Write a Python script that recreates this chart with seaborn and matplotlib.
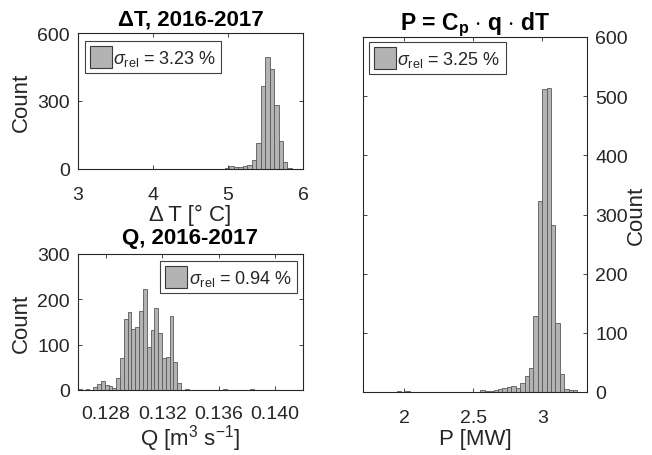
import numpy as np
import pandas as pd
import matplotlib
matplotlib.use("Agg")
import matplotlib.pyplot as plt
import seaborn as sns
from matplotlib.patches import Patch

# ---------------- data ----------------
dT_bin_start = 4.841
dT_bin_width = 0.0595
dT_counts = [2, 0, 3, 13, 7, 7, 12, 19, 41, 115, 368, 494, 441, 284, 125, 32, 3]
dT_sigma = "3.23"

Q_bin_start = 0.12600
Q_bin_width = 0.0002714
Q_counts = [2, 0, 2, 0, 6, 14, 19, 11, 9, 4, 26, 71, 157, 173, 135, 139, 174,
            223, 95, 132, 181, 126, 71, 72, 163, 61, 15, 0, 2, 0, 0, 0, 0, 0,
            0, 0, 0, 0, 2, 0, 0, 0, 0, 0, 0, 2]
Q_sigma = "0.94"

P_bin_start = 1.943
P_bin_width = 0.032
P_counts = [2, 0, 2, 0, 0, 0, 0, 0, 0, 0, 0, 0, 0, 0, 0, 0, 0, 0, 0,
            3, 1, 1, 3, 5, 7, 9, 10, 6, 16, 27, 41, 128, 323, 512, 514, 283,
            117, 30, 5, 4, 3]
P_sigma = "3.25"

dT_xticks = [3, 4, 5, 6]
dT_yticks = [0, 300, 600]
Q_xticks = [0.128, 0.132, 0.136, 0.140]
Q_xticklabels = ["0.128", "0.132", "0.136", "0.140"]
Q_yticks = [0, 100, 200, 300]
P_xticks = [2, 2.5, 3]
P_xticklabels = ["2", "2.5", "3"]
P_yticks = [0, 100, 200, 300, 400, 500, 600]

# ---------------- style ----------------
sns.set_style("ticks")
plt.rcParams["font.family"] = ["Liberation Sans", "DejaVu Sans"]
plt.rcParams["mathtext.fontset"] = "custom"
plt.rcParams["mathtext.rm"] = "Liberation Sans"
plt.rcParams["mathtext.it"] = "Liberation Sans:italic"
plt.rcParams["mathtext.bf"] = "Liberation Sans:bold"

TXT = "#262626"
FACE = "#b3b3b3"
EDGE = "#5a5a5a"

fig = plt.figure(figsize=(6.52, 4.56), dpi=100)
W, H = 652, 456


def px_axes(l, t, r, b):
    return fig.add_axes([l / W, (H - b) / H, (r - l) / W, (b - t) / H])


ax1 = px_axes(78, 34, 303, 170)
ax2 = px_axes(78, 255, 303, 391)
ax3 = px_axes(363, 38, 587, 393)


def hist(ax, start, width, counts):
    n = len(counts)
    edges = start + width * np.arange(n + 1)
    df = pd.DataFrame({"x": (edges[:-1] + edges[1:]) / 2,
                       "w": np.asarray(counts, dtype=float)})
    sns.histplot(data=df, x="x", weights="w", bins=list(edges), ax=ax,
                 color=FACE, edgecolor=EDGE, linewidth=0.6, alpha=1.0)


hist(ax1, dT_bin_start, dT_bin_width, dT_counts)
hist(ax2, Q_bin_start, Q_bin_width, Q_counts)
hist(ax3, P_bin_start, P_bin_width, P_counts)

for ax in (ax1, ax2, ax3):
    for s in ax.spines.values():
        s.set_visible(True)
        s.set_color(TXT)
        s.set_linewidth(0.8)
    ax.tick_params(direction="in", top=True, right=True, left=True, bottom=True,
                   length=3, width=0.6, labelsize=14, colors=TXT)
    ax.tick_params(axis="y", pad=6)
    ax.set_facecolor("white")

ax1.tick_params(axis="x", pad=12)
ax2.tick_params(axis="x", pad=11)
ax3.tick_params(axis="x", pad=12)


def legend(ax, sigma, loc, anchor):
    h = Patch(facecolor=FACE, edgecolor="#3a3a3a", linewidth=0.8)
    lg = ax.legend([h], [r"$\sigma_{\rm rel}$ = " + sigma + " %"], loc=loc,
                   bbox_to_anchor=anchor, borderaxespad=0, fontsize=13,
                   handlelength=1.2, handleheight=1.5, handletextpad=0.08,
                   borderpad=0.28, frameon=True, fancybox=False,
                   labelcolor=TXT)
    fr = lg.get_frame()
    fr.set_edgecolor("#404040")
    fr.set_linewidth(0.8)
    fr.set_alpha(1)


# top-left: delta T
ax1.set_xlim(3, 6)
ax1.set_ylim(0, 600)
ax1.set_xticks(dT_xticks)
ax1.set_yticks(dT_yticks)
ax1.set_xlabel("Δ T [° C]", fontsize=16, color=TXT, labelpad=1)
ax1.set_ylabel("Count", fontsize=16, color=TXT, labelpad=4)
ax1.set_title("ΔT, 2016-2017", fontsize=16, fontweight="bold", color="black", pad=6)
legend(ax1, dT_sigma, "upper left", (0.031, 0.94))

# bottom-left: Q
ax2.set_xlim(0.126, 0.142)
ax2.set_ylim(0, 300)
ax2.set_xticks(Q_xticks)
ax2.set_xticklabels(Q_xticklabels)
ax2.set_yticks(Q_yticks)
ax2.set_xlabel(r"Q [m$^3$ s$^{-1}$]", fontsize=16, color=TXT, labelpad=0)
ax2.set_ylabel("Count", fontsize=16, color=TXT, labelpad=4)
ax2.set_title("Q, 2016-2017", fontsize=16, fontweight="bold", color="black", pad=8)
legend(ax2, Q_sigma, "upper right", (0.973, 0.949))

# right: P
ax3.set_xlim(1.70, 3.324)
ax3.set_ylim(0, 600)
ax3.set_xticks(P_xticks)
ax3.set_xticklabels(P_xticklabels)
ax3.set_yticks(P_yticks)
ax3.tick_params(labelleft=False, labelright=True)
ax3.yaxis.set_label_position("right")
ax3.set_xlabel("P [MW]", fontsize=16, color=TXT, labelpad=2)
ax3.set_ylabel("Count", fontsize=16, color=TXT, rotation=90)
ax3.yaxis.set_label_coords(1.175, 0.5)
ax3.set_title(r"P = C$_{\mathbf{p}}$ $\cdot$ q $\cdot$ dT", fontsize=16.5,
              fontweight="bold", color="black", pad=6)
legend(ax3, P_sigma, "upper left", (0.027, 0.986))

fig.savefig("out.png", dpi=100)
